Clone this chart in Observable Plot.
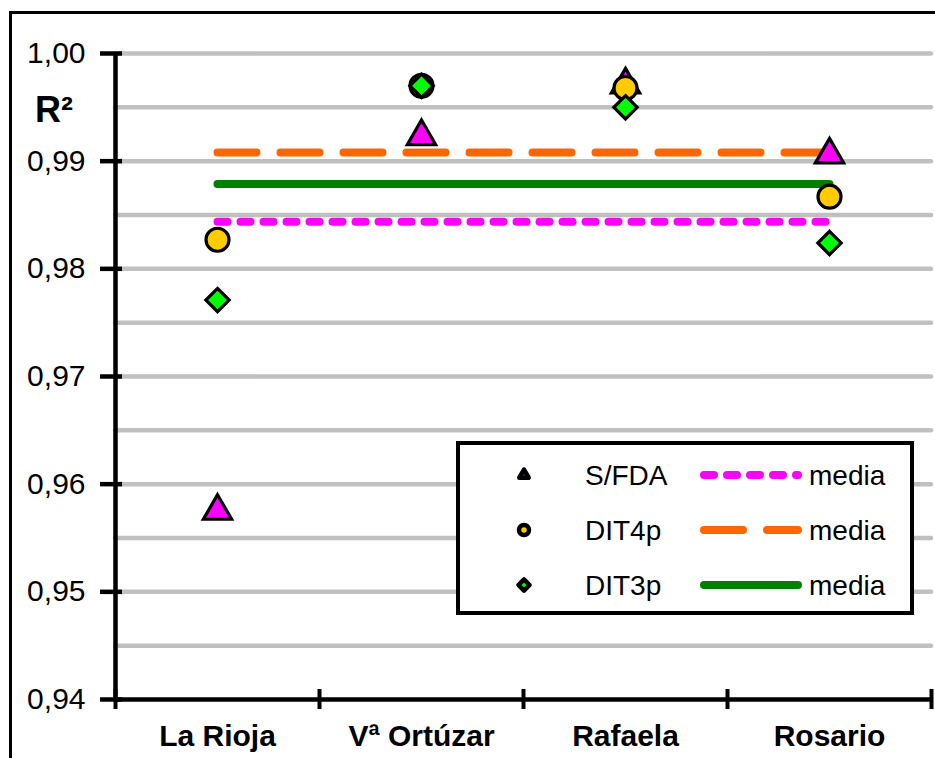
<!DOCTYPE html>
<html><head><meta charset="utf-8">
<script src="https://cdn.jsdelivr.net/npm/d3@7"></script>
<script src="https://cdn.jsdelivr.net/npm/@observablehq/plot@0.6"></script>
<style>
body{margin:0;background:#fff;}
#chart{position:relative;width:935px;height:758px;overflow:hidden;}
</style>
</head><body><div id="chart"></div>
<script>
// ---- data ----
const categories = ["La Rioja", "Vª Ortúzar", "Rafaela", "Rosario"];
const seriesNames = ["S/FDA", "DIT4p", "DIT3p"];
const sfda  = [0.9575, 0.9923, 0.9971, 0.9906];
const dit4p = [0.9827, 0.9970, 0.9968, 0.9867];
const dit3p = [0.9771, 0.9970, 0.9950, 0.9824];
const yTicks = [0.94, 0.95, 0.96, 0.97, 0.98, 0.99, 1.00];
const gridValues = [0.945, 0.95, 0.955, 0.96, 0.965, 0.97, 0.975, 0.98, 0.985, 0.99, 0.995, 1.00];
const xBounds = [-0.5, 0.5, 1.5, 2.5, 3.5];
const legendMeanLabel = "media";
const yTitle = "R²";

// ---- styles ----
const styles = {
  "S/FDA": {symbol: "triangle", fill: "#ff00ff", r: 10.5, line: "#ff00ff", dash: "10,13", lr: 4.5},
  "DIT4p": {symbol: "circle",   fill: "#ffcc00", r: 11.5, line: "#ff6600", dash: "39,24", lr: 5},
  "DIT3p": {symbol: "diamond2", fill: "#00ff00", r: 10.5, line: "#008000", dash: null, lr: 5}
};
const seriesValues = {"S/FDA": sfda, "DIT4p": dit4p, "DIT3p": dit3p};

const idx = categories.map((c, i) => i);
const means = seriesNames.map(s => ({series: s, mean: d3.mean(seriesValues[s])}));

const font = "'Liberation Sans', Arial, sans-serif";

const meanLines = means.map(m => Plot.line(
  [{x: 0, y: m.mean}, {x: categories.length - 1, y: m.mean}],
  {x: "x", y: "y", stroke: styles[m.series].line, strokeWidth: 8,
   strokeLinecap: "round", strokeDasharray: styles[m.series].dash || undefined}
));

const dots = seriesNames.map(s => Plot.dot(idx, {
  x: i => i, y: i => seriesValues[s][i],
  symbol: styles[s].symbol, r: styles[s].r,
  fill: styles[s].fill, stroke: "black", strokeWidth: 3.2
}));

const plot = Plot.plot({
  width: 935, height: 758,
  marginLeft: 115, marginRight: 4, marginTop: 53, marginBottom: 59,
  style: {fontFamily: font, background: "white", overflow: "visible"},
  x: {type: "linear", domain: [-0.5, 3.5], axis: null},
  y: {domain: [0.94, 1.00], axis: null},
  marks: [
    Plot.ruleY(gridValues, {stroke: "#c0c0c0", strokeWidth: 4.5, strokeLinecap: "round"}),
    ...meanLines,
    Plot.ruleX([-0.5], {stroke: "black", strokeWidth: 4.5}),
    Plot.ruleY([0.94], {stroke: "black", strokeWidth: 4.5}),
    Plot.axisY({ticks: yTicks, tickSize: 22, dx: 7, tickPadding: 15, strokeWidth: 4.5,
      fontSize: 30, tickFormat: d => d3.format(".2f")(d).replace(".", ","), label: null}),
    Plot.axisX({ticks: xBounds, tickSize: 20, dy: -10, strokeWidth: 4, tickFormat: () => "", label: null}),
    Plot.axisX({ticks: idx, tickSize: 0, tickPadding: 25, fontSize: 30, fontWeight: "bold",
      tickFormat: i => categories[i], label: null}),
    ...dots
  ]
});

document.getElementById("chart").appendChild(plot);

// ---- outer frame, y title & legend ----
const svg = d3.select(plot);
svg.append("rect").attr("x", 10.5).attr("y", 12.5).attr("width", 1000).attr("height", 1000)
  .attr("fill", "none").attr("stroke", "black").attr("stroke-width", 3);

svg.append("text").attr("x", 54).attr("y", 122).attr("text-anchor", "middle")
  .attr("font-size", 36).attr("font-weight", "bold").attr("font-family", font)
  .attr("fill", "black").text(yTitle);

const lg = svg.append("g").attr("text-anchor", "start");
lg.append("rect").attr("x", 458).attr("y", 443).attr("width", 454).attr("height", 170)
  .attr("fill", "white").attr("stroke", "black").attr("stroke-width", 4);
const rowY = [475, 530, 585];
const symMap = {triangle: d3.symbolTriangle2, circle: d3.symbolCircle, diamond2: d3.symbolDiamond2};
seriesNames.forEach((s, k) => {
  const st = styles[s];
  const y = rowY[k];
  lg.append("path").attr("d", d3.symbol(symMap[st.symbol], Math.PI * st.lr * st.lr)())
    .attr("transform", `translate(524,${y})`).attr("fill", st.fill)
    .attr("stroke", "black").attr("stroke-width", 4.5).attr("stroke-linejoin", "round");
  lg.append("text").attr("x", 585).attr("y", y).attr("dy", "0.36em")
    .attr("font-size", 28).attr("font-family", font).attr("fill", "black").text(s);
  lg.append("line").attr("x1", 704).attr("x2", 798).attr("y1", y).attr("y2", y)
    .attr("stroke", st.line).attr("stroke-width", 8).attr("stroke-linecap", "round")
    .attr("stroke-dasharray", st.dash || null);
  lg.append("text").attr("x", 809).attr("y", y).attr("dy", "0.36em")
    .attr("font-size", 28).attr("font-family", font).attr("fill", "black").text(legendMeanLabel);
});
</script>
</body></html>
